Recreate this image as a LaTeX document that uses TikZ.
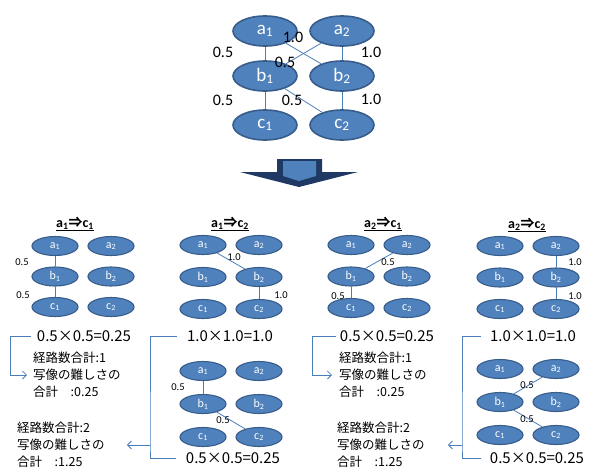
\documentclass[tikz,border=0pt]{standalone}
\usepackage{fontspec}
\setmainfont{Carlito}
\newfontfamily\jp{Noto Sans CJK JP}
\usetikzlibrary{shapes.geometric,arrows.meta}
\definecolor{fillb}{HTML}{4F81BD}
\definecolor{edgeb}{HTML}{385D8A}
\definecolor{navy}{HTML}{203864}
\definecolor{lnb}{HTML}{4A7EBB}
\newcommand\ssub[2]{#1\textsubscript{#2}}
\tikzset{
 big/.style={ellipse, draw=edgeb, fill=fillb, line width=1.6pt, minimum width=64pt, minimum height=30pt, inner sep=0pt, text=white, font=\fontsize{19}{19}\selectfont},
 sm/.style={ellipse, draw=edgeb, fill=fillb, line width=1.1pt, minimum width=46pt, minimum height=19pt, inner sep=0pt, text=white, font=\fontsize{12}{12}\selectfont},
 ln/.style={draw=lnb, line width=0.8pt},
 lbl/.style={font=\fontsize{16}{16}\selectfont, inner sep=0pt},
 slbl/.style={font=\fontsize{10.5}{10.5}\selectfont, inner sep=0pt},
 ttl/.style={font=\bfseries\fontsize{14}{14}\selectfont, inner sep=0pt},
 eqn/.style={font=\jp\fontsize{15}{15}\selectfont, inner sep=0pt},
 note/.style={font=\jp\fontsize{12.5}{17}\selectfont, align=left, inner sep=0pt, anchor=west},
 brk/.style={draw=lnb, line width=0.8pt},
 tip/.style={-{Straight Barb[length=4pt,width=8pt]}}
}
\newcommand\grid[4]{%
 \node[sm] (#1a1) at (#2,#3) {\ssub a1};
 \node[sm] (#1a2) at (#2+56,#3) {\ssub a2};
 \node[sm] (#1b1) at (#2,#3+#4) {\ssub b1};
 \node[sm] (#1b2) at (#2+56,#3+#4) {\ssub b2};
 \node[sm] (#1c1) at (#2,#3+2*#4) {\ssub c1};
 \node[sm] (#1c2) at (#2+56,#3+2*#4) {\ssub c2};
}
\newcommand\ttlx[2]{\underline{\ssub a#1{\jp ⇒}\ssub c#2}}
\begin{document}
\begin{tikzpicture}[x=1pt,y=-1pt]
\useasboundingbox (0,0) rectangle (593,469);
% top diagram
\node[big] (A1) at (265,31) {\ssub a1};
\node[big] (A2) at (342,31) {\ssub a2};
\node[big] (B1) at (265,76) {\ssub b1};
\node[big] (B2) at (342,76) {\ssub b2};
\node[big] (C1) at (265,125) {\ssub c1};
\node[big] (C2) at (342,125) {\ssub c2};
\draw[ln] (A1) -- (B1);
\draw[ln] (A2) -- (B2);
\draw[ln] (B1) -- (C1);
\draw[ln] (B2) -- (C2);
\draw[ln] (A1) -- (B2);
\draw[ln] (A2) -- (B1);
\draw[ln] (B1) -- (C2);
\node[lbl] (t1) at (223,52) {0.5};
\node[lbl] (t2) at (223,100) {0.5};
\node[lbl] (t3) at (293,37) {1.0};
\node[lbl] (t4) at (285,62) {0.5};
\node[lbl] (t5) at (371,52) {1.0};
\node[lbl] (t6) at (292,100) {0.5};
\node[lbl] (t7) at (371,99) {1.0};
% big arrow
\fill[navy] (277,159) -- (322,159) -- (322,172) -- (358,172) -- (299,187) -- (240,172) -- (277,172) -- cycle;
\fill[fillb] (283,161) -- (316,161) -- (316,176) -- (299,181) -- (283,176) -- cycle;
% panel 1
\node[ttl] (T1) at (75,224) {\ttlx11};
\grid{p}{55}{246}{30.5}
\draw[ln] (pa1) -- (pb1);
\draw[ln] (pb1) -- (pc1);
\node[slbl] (l11) at (22,262) {0.5};
\node[slbl] (l12) at (23,295) {0.5};
% panel 2
\node[ttl] (T2) at (230,224) {\ttlx12};
\grid{q}{203}{245}{32}
\draw[ln] (qa1) -- (qb2);
\draw[ln] (qb2) -- (qc2);
\node[slbl] (l21) at (234,257) {1.0};
\node[slbl] (l22) at (281,295) {1.0};
% panel 3
\node[ttl] (T3) at (383,224) {\ttlx21};
\grid{r}{351}{245}{31.5}
\draw[ln] (ra2) -- (rb1);
\draw[ln] (rb1) -- (rc1);
\node[slbl] (l31) at (388,262) {0.5};
\node[slbl] (l32) at (338,296) {0.5};
% panel 4
\node[ttl] (T4) at (527,225) {\ttlx22};
\grid{s}{500}{246}{31.5}
\draw[ln] (sa2) -- (sb2);
\draw[ln] (sb2) -- (sc2);
\node[slbl] (l41) at (575,262) {1.0};
\node[slbl] (l42) at (575,296) {1.0};
% lower panel 2
\grid{u}{203}{371}{33}
\draw[ln] (ua1) -- (ub1);
\draw[ln] (ub1) -- (uc2);
\node[slbl] (l51) at (178,387) {0.5};
\node[slbl] (l52) at (223,420) {0.5};
% lower panel 4
\grid{v}{500}{369}{33}
\draw[ln] (va2) -- (vb1);
\draw[ln] (vb1) -- (vc2);
\node[slbl] (l61) at (527,385) {0.5};
\node[slbl] (l62) at (527,419) {0.5};
% equations
\node[eqn] (E1) at (84,336) {0.5×0.5=0.25};
\node[eqn] (E2) at (230,336) {1.0×1.0=1.0};
\node[eqn] (E3) at (387,336) {0.5×0.5=0.25};
\node[eqn] (E4) at (533,336) {1.0×1.0=1.0};
\node[eqn] (E5) at (233,458) {0.5×0.5=0.25};
\node[eqn] (E6) at (537,458) {0.5×0.5=0.25};
% notes
\node[note] (N1) at (33,375) {経路数合計:1\\写像の難しさの\\合計　:0.25};
\node[note] (N2) at (17,445) {経路数合計:2\\写像の難しさの\\合計　:1.25};
\node[note] (N3) at (339,375) {経路数合計:1\\写像の難しさの\\合計　:0.25};
\node[note] (N4) at (337,445) {経路数合計:2\\写像の難しさの\\合計　:1.25};
% brackets
\draw[brk,tip] ([xshift=-6pt]E1.west) -| ([xshift=-23pt]N1.west) -- ([xshift=-6pt]N1.west);
\draw[brk,tip] ([xshift=-4pt]E3.west) -| ([xshift=-27pt]N3.west) -- ([xshift=-7pt]N3.west);
\coordinate (j2) at (150,445);
\draw[brk] ([xshift=-10pt]E2.west) -| (j2) |- ([xshift=-10pt]E5.west);
\draw[brk,tip] (j2) -- ([xshift=22pt]N2.east);
\coordinate (j4) at (462,445);
\draw[brk] ([xshift=-9pt]E4.west) -| (j4) |- ([xshift=-9pt]E6.west);
\draw[brk,tip] (j4) -- ([xshift=23pt]N4.east);
\end{tikzpicture}
\end{document}
